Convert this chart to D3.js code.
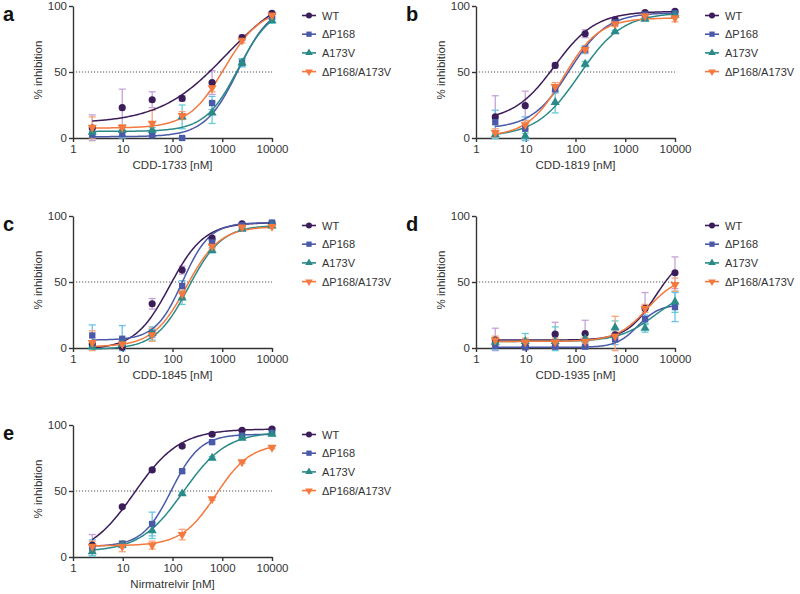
<!DOCTYPE html>
<html><head><meta charset="utf-8">
<script src="https://cdn.jsdelivr.net/npm/d3@7"></script>
<style>body{margin:0;background:#fff}svg{display:block;font-family:"Liberation Sans",Arial,sans-serif}</style>
</head><body><svg id="c" width="800" height="594"></svg>
<script>
// ---- data ----
const conc = [2.44, 9.77, 39.06, 156.25, 625, 2500, 10000];
const seriesNames = ["WT", "ΔP168", "A173V", "ΔP168/A173V"];
const panelLetters = ["a", "b", "c", "d", "e"];
const compounds = ["CDD-1733 [nM]", "CDD-1819 [nM]", "CDD-1845 [nM]", "CDD-1935 [nM]", "Nirmatrelvir [nM]"];
const xTicks = [1, 10, 100, 1000, 10000];
const yTicks = [0, 50, 100];

// mean % inhibition per series (WT, ΔP168, A173V, ΔP168/A173V)
const meanA = [[7.5, 23, 29, 30, 42, 76, 94.5], [2.5, 3, 2, 0, 26.5, 57, 92], [4.5, 6, 6, 16, 19, 57, 89], [8, 8, 11, 17, 38, 74, 93]];
const meanB = [[16, 24.5, 55, 79, 89.5, 95, 96], [12, 7, 37, 67, 87.5, 93.5, 94.5], [2.5, 1.5, 27, 56, 80.5, 90, 93], [4, 10, 39, 67, 86.5, 92.5, 91]];
const meanC = [[3, 0.5, 33.5, 59, 83, 94, 94.5], [9.5, 7, 11, 47, 80, 93, 95], [1, 3, 11, 38, 74, 90, 92.5], [4, 3, 10, 41, 77, 91.5, 92]];
const meanD = [[6, 1, 10.5, 11, 10, 30, 57], [1.5, 0.5, 1, 1, 6.5, 22, 31], [4.5, 5, 5, 7, 15.5, 15, 35], [6, 4.5, 4.5, 5, 9, 30, 48]];
const meanE = [[9, 38, 66, 84, 93, 96, 97], [7, 10, 25, 65, 87, 92, 94], [4, 9, 20, 48, 75, 90, 93], [8, 8, 9, 17, 44, 72, 83]];

// SD (error bars)
const sdA = [[10, 14, 6, 2, 9, 2, 1], [2, 3, 1, 1, 5, 3, 2], [3, 4, 2, 9, 8, 3, 2], [8, 2, 10, 3, 3, 2, 1]];
const sdB = [[16, 11, 2, 3, 2, 1, 1], [9, 9, 3, 3, 1, 1, 1], [3, 2, 8, 2, 1, 1, 1], [3, 3, 3, 2, 2, 1, 3]];
const sdC = [[2, 1, 4, 3, 2, 1, 1], [8, 10, 3, 4, 2, 1, 1], [2, 2, 5, 5, 2, 1, 1], [9, 2, 5, 3, 2, 1, 1]];
const sdD = [[9, 2, 9, 10, 3, 12, 12], [3, 1, 1, 1, 4, 3, 11], [3, 6, 11, 3, 5, 3, 8], [3, 3, 3, 3, 15, 3, 5]];
const sdE = [[8, 1, 1, 1, 1, 1, 1], [6, 2, 9, 1, 1, 1, 1], [3, 2, 6, 1, 1, 1, 1], [4, 4, 3, 4, 1, 1, 1]];

// fitted 4PL curves: [bottom, top, EC50, hill]
const fitA = [[11, 115, 1200, 0.65], [1, 102, 2100, 1.3], [5, 100, 2100, 1.3], [7.5, 98, 1100, 1.2]];
const fitB = [[13, 96, 38, 1.05], [7, 95, 75, 1.15], [1, 95, 120, 1.0], [1, 91, 57, 1.2]];
const fitC = [[-1, 95, 88, 1.25], [6, 95, 160, 1.6], [-1, 93, 210, 1.3], [1, 92, 190, 1.3]];
const fitD = [[6, 72, 4000, 1.5], [0.5, 33, 1800, 2], [5, 45, 4000, 1.2], [5, 55, 2800, 1.4]];
const fitE = [[0, 97, 17, 0.95], [8, 93, 95, 1.5], [4, 95, 165, 1.0], [8.5, 86, 750, 1.26]];

// ---- styles ----
const colors = ["#3b1d5a", "#4a5aa8", "#2a8a88", "#f4793f"];
const errColors = ["#c6a2d8", "#6cc0e8", "#66ccd4", "#f7a47c"];
const shapes = [d3.symbolCircle, d3.symbolSquare, d3.symbolTriangle, d3.symbolTriangle];
const rot = [0, 0, 0, 180];
const sizes = [40, 40, 36, 36];

const panels = [
  {left: 73, top: 6, mean: meanA, sd: sdA, fit: fitA},
  {left: 476, top: 6, mean: meanB, sd: sdB, fit: fitB},
  {left: 73, top: 216, mean: meanC, sd: sdC, fit: fitC},
  {left: 476, top: 216, mean: meanD, sd: sdD, fit: fitD},
  {left: 73, top: 425, mean: meanE, sd: sdE, fit: fitE}
];
const W = 199, H = 132;
const svg = d3.select("#c");
const axisColor = "#333";

function fourPL(p, x) { return p[0] + (p[1] - p[0]) / (1 + Math.pow(p[2] / x, p[3])); }

panels.forEach((p, pi) => {
  const g = svg.append("g");
  const x = d3.scaleLog().domain([1, 10000]).range([p.left, p.left + W]);
  const y = d3.scaleLinear().domain([0, 100]).range([p.top + H, p.top]);

  // dotted 50% line
  g.append("line").attr("x1", x(1)).attr("x2", x(10000)).attr("y1", y(50)).attr("y2", y(50))
    .attr("stroke", "#555").attr("stroke-width", 1).attr("stroke-dasharray", "1.2,1.8");

  const ya = g.append("g").attr("transform", `translate(${p.left},0)`)
    .call(d3.axisLeft(y).tickValues(yTicks).tickSize(4).tickSizeOuter(0).tickPadding(2));
  const xa = g.append("g").attr("transform", `translate(0,${p.top + H})`)
    .call(d3.axisBottom(x).tickValues(xTicks).tickFormat(d3.format("d")).tickSize(4).tickSizeOuter(0).tickPadding(3));
  [ya, xa].forEach(a => {
    a.selectAll("path,line").attr("stroke", axisColor).attr("stroke-width", 1.4);
    a.selectAll("text").attr("fill", "#333").attr("font-size", 11.5).attr("font-family", '"Liberation Sans",Arial,sans-serif');
  });

  // titles
  g.append("text").attr("x", p.left + W / 2).attr("y", p.top + H + 31).attr("text-anchor", "middle")
    .attr("font-size", 11.5).attr("fill", "#333").text(compounds[pi]);
  g.append("text").attr("transform", `translate(${p.left - 31},${p.top + H / 2 - 2}) rotate(-90)`)
    .attr("text-anchor", "middle").attr("font-size", 11.5).attr("fill", "#333").text("% inhibition");
  g.append("text").attr("x", p.left - 70).attr("y", p.top + 15).attr("font-size", 20).attr("font-weight", "bold")
    .attr("fill", "#111").text(panelLetters[pi]);

  // error bars
  p.mean.forEach((m, si) => {
    const eg = g.append("g").attr("stroke", errColors[si]).attr("stroke-width", 1.3);
    m.forEach((v, i) => {
      const s = p.sd[si][i];
      const cx = x(conc[i]);
      const hi = y(v + s), lo = y(Math.max(v - s, -2));
      eg.append("line").attr("x1", cx).attr("x2", cx).attr("y1", hi).attr("y2", lo);
      eg.append("line").attr("x1", cx - 3.5).attr("x2", cx + 3.5).attr("y1", hi).attr("y2", hi);
      eg.append("line").attr("x1", cx - 3.5).attr("x2", cx + 3.5).attr("y1", lo).attr("y2", lo);
    });
  });

  // curves
  const line = d3.line().x(d => x(d[0])).y(d => y(d[1])).curve(d3.curveLinear);
  p.fit.forEach((f, si) => {
    const l0 = Math.log10(conc[0]), l1 = Math.log10(conc[conc.length - 1]);
    const pts = d3.range(0, 121).map(k => { const xv = Math.pow(10, l0 + (l1 - l0) * k / 120); return [xv, fourPL(f, xv)]; });
    g.append("path").attr("d", line(pts)).attr("fill", "none").attr("stroke", colors[si]).attr("stroke-width", 1.5);
  });

  // markers
  p.mean.forEach((m, si) => {
    const sym = d3.symbol().type(shapes[si]).size(sizes[si]);
    m.forEach((v, i) => {
      g.append("path").attr("d", sym()).attr("fill", colors[si])
        .attr("transform", `translate(${x(conc[i])},${y(v)}) rotate(${rot[si]})`);
    });
  });

  // legend
  const lg = g.append("g");
  seriesNames.forEach((n, si) => {
    const ly = p.top + 9.5 + si * 18.7;
    const lx = p.left + W + 30;
    lg.append("line").attr("x1", lx).attr("x2", lx + 14).attr("y1", ly).attr("y2", ly).attr("stroke", colors[si]).attr("stroke-width", 1.6);
    lg.append("path").attr("d", d3.symbol().type(shapes[si]).size(sizes[si] * 0.7)()).attr("fill", colors[si])
      .attr("transform", `translate(${lx + 7},${ly}) rotate(${rot[si]})`);
    lg.append("text").attr("x", lx + 20).attr("y", ly + 4).attr("font-size", 11).attr("fill", "#333").text(n);
  });
});
</script></body></html>
